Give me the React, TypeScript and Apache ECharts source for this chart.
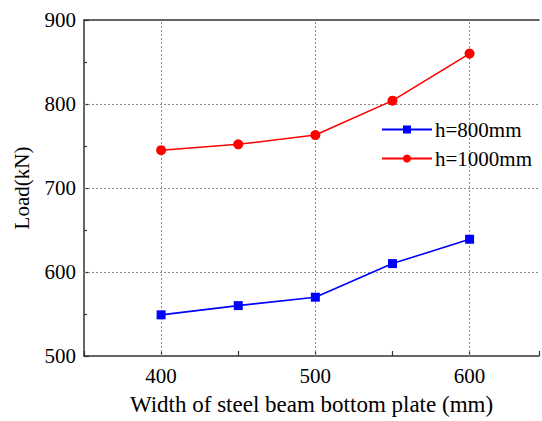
import React, { useEffect, useRef } from "react";
import * as echarts from "echarts";

const widths = [400, 450, 500, 550, 600];
const load800 = [549, 560, 570, 610, 639];
const load1000 = [745, 752, 763, 804, 860];
const xGridValues = [400, 500, 600];
const yGridValues = [600, 700, 800];
const seriesNames = ["h=800mm", "h=1000mm"];

const FONT = "'Liberation Serif', 'Times New Roman', Times, serif";

export default function App() {
  const ref = useRef<HTMLDivElement>(null);
  useEffect(() => {
    if (!ref.current) return;
    const chart = echarts.init(ref.current, null, { renderer: "svg" });
    const gridLine = { color: "#8a8a8a", width: 1, type: [2, 2] as any };
    chart.setOption({
      animation: false,
      backgroundColor: "#ffffff",
      textStyle: { fontFamily: FONT },
      grid: { left: 84, top: 20, width: 457, height: 340, containLabel: false },
      legend: {
        orient: "vertical",
        left: 376,
        top: 114,
        itemWidth: 50,
        itemHeight: 10,
        itemGap: 8,
        textStyle: { fontFamily: FONT, fontSize: 21, color: "#000", padding: [0, 0, 0, -2] },
        data: seriesNames,
      },
      xAxis: [
        {
          type: "value",
          min: 350,
          max: 645,
          interval: 50,
          name: "Width of steel beam bottom plate (mm)",
          nameLocation: "middle",
          nameGap: 37,
          nameTextStyle: { fontFamily: FONT, fontSize: 23, color: "#000" },
          axisLine: { show: true, onZero: false, lineStyle: { color: "#333", width: 1.5 } },
          axisTick: { show: true, inside: true, length: 5, lineStyle: { color: "#333", width: 1.2 } },
          axisLabel: {
            fontFamily: FONT,
            fontSize: 21,
            color: "#000",
            margin: 9,
            formatter: (v: number) => (v % 100 === 0 ? String(v) : ""),
          },
          splitLine: { show: false },
        },
        {
          type: "value",
          position: "top",
          min: 350,
          max: 645,
          interval: 50,
          axisLine: { show: true, onZero: false, lineStyle: { color: "#333", width: 1.5 } },
          axisTick: { show: false },
          axisLabel: { show: false },
          splitLine: { show: false },
        },
      ],
      yAxis: {
        type: "value",
        min: 500,
        max: 900,
        interval: 100,
        name: "Load(kN)",
        nameLocation: "middle",
        nameGap: 52,
        nameTextStyle: { fontFamily: FONT, fontSize: 21, color: "#000" },
        axisLine: { show: true, lineStyle: { color: "#333", width: 1.5 } },
        axisTick: { show: true, inside: true, length: 5, lineStyle: { color: "#333", width: 1.2 } },
        minorTick: { show: true, splitNumber: 2, length: 3, lineStyle: { color: "#333", width: 1.2 } },
        axisLabel: { fontFamily: FONT, fontSize: 21, color: "#000", margin: 8 },
        splitLine: { show: false },
      },
      series: [
        {
          name: seriesNames[0],
          type: "line",
          data: widths.map((w, i) => [w, load800[i]]),
          symbol: "rect",
          symbolSize: 9,
          itemStyle: { color: "#0000ff" },
          lineStyle: { color: "#0000ff", width: 1.6 },
          z: 3,
          markLine: {
            silent: true,
            symbol: "none",
            label: { show: false },
            lineStyle: gridLine,
            data: [
              ...xGridValues.map((v) => ({ xAxis: v })),
              ...yGridValues.map((v) => ({ yAxis: v })),
            ],
            z: 1,
          },
        },
        {
          name: seriesNames[1],
          type: "line",
          data: widths.map((w, i) => [w, load1000[i]]),
          symbol: "circle",
          symbolSize: 10,
          itemStyle: { color: "#ff0000" },
          lineStyle: { color: "#ff0000", width: 1.6 },
          z: 3,
        },
      ],
    });
    return () => chart.dispose();
  }, []);
  return (
    <div
      ref={ref}
      style={{ position: "fixed", left: 0, top: 0, width: 542, height: 421 }}
    />
  );
}
